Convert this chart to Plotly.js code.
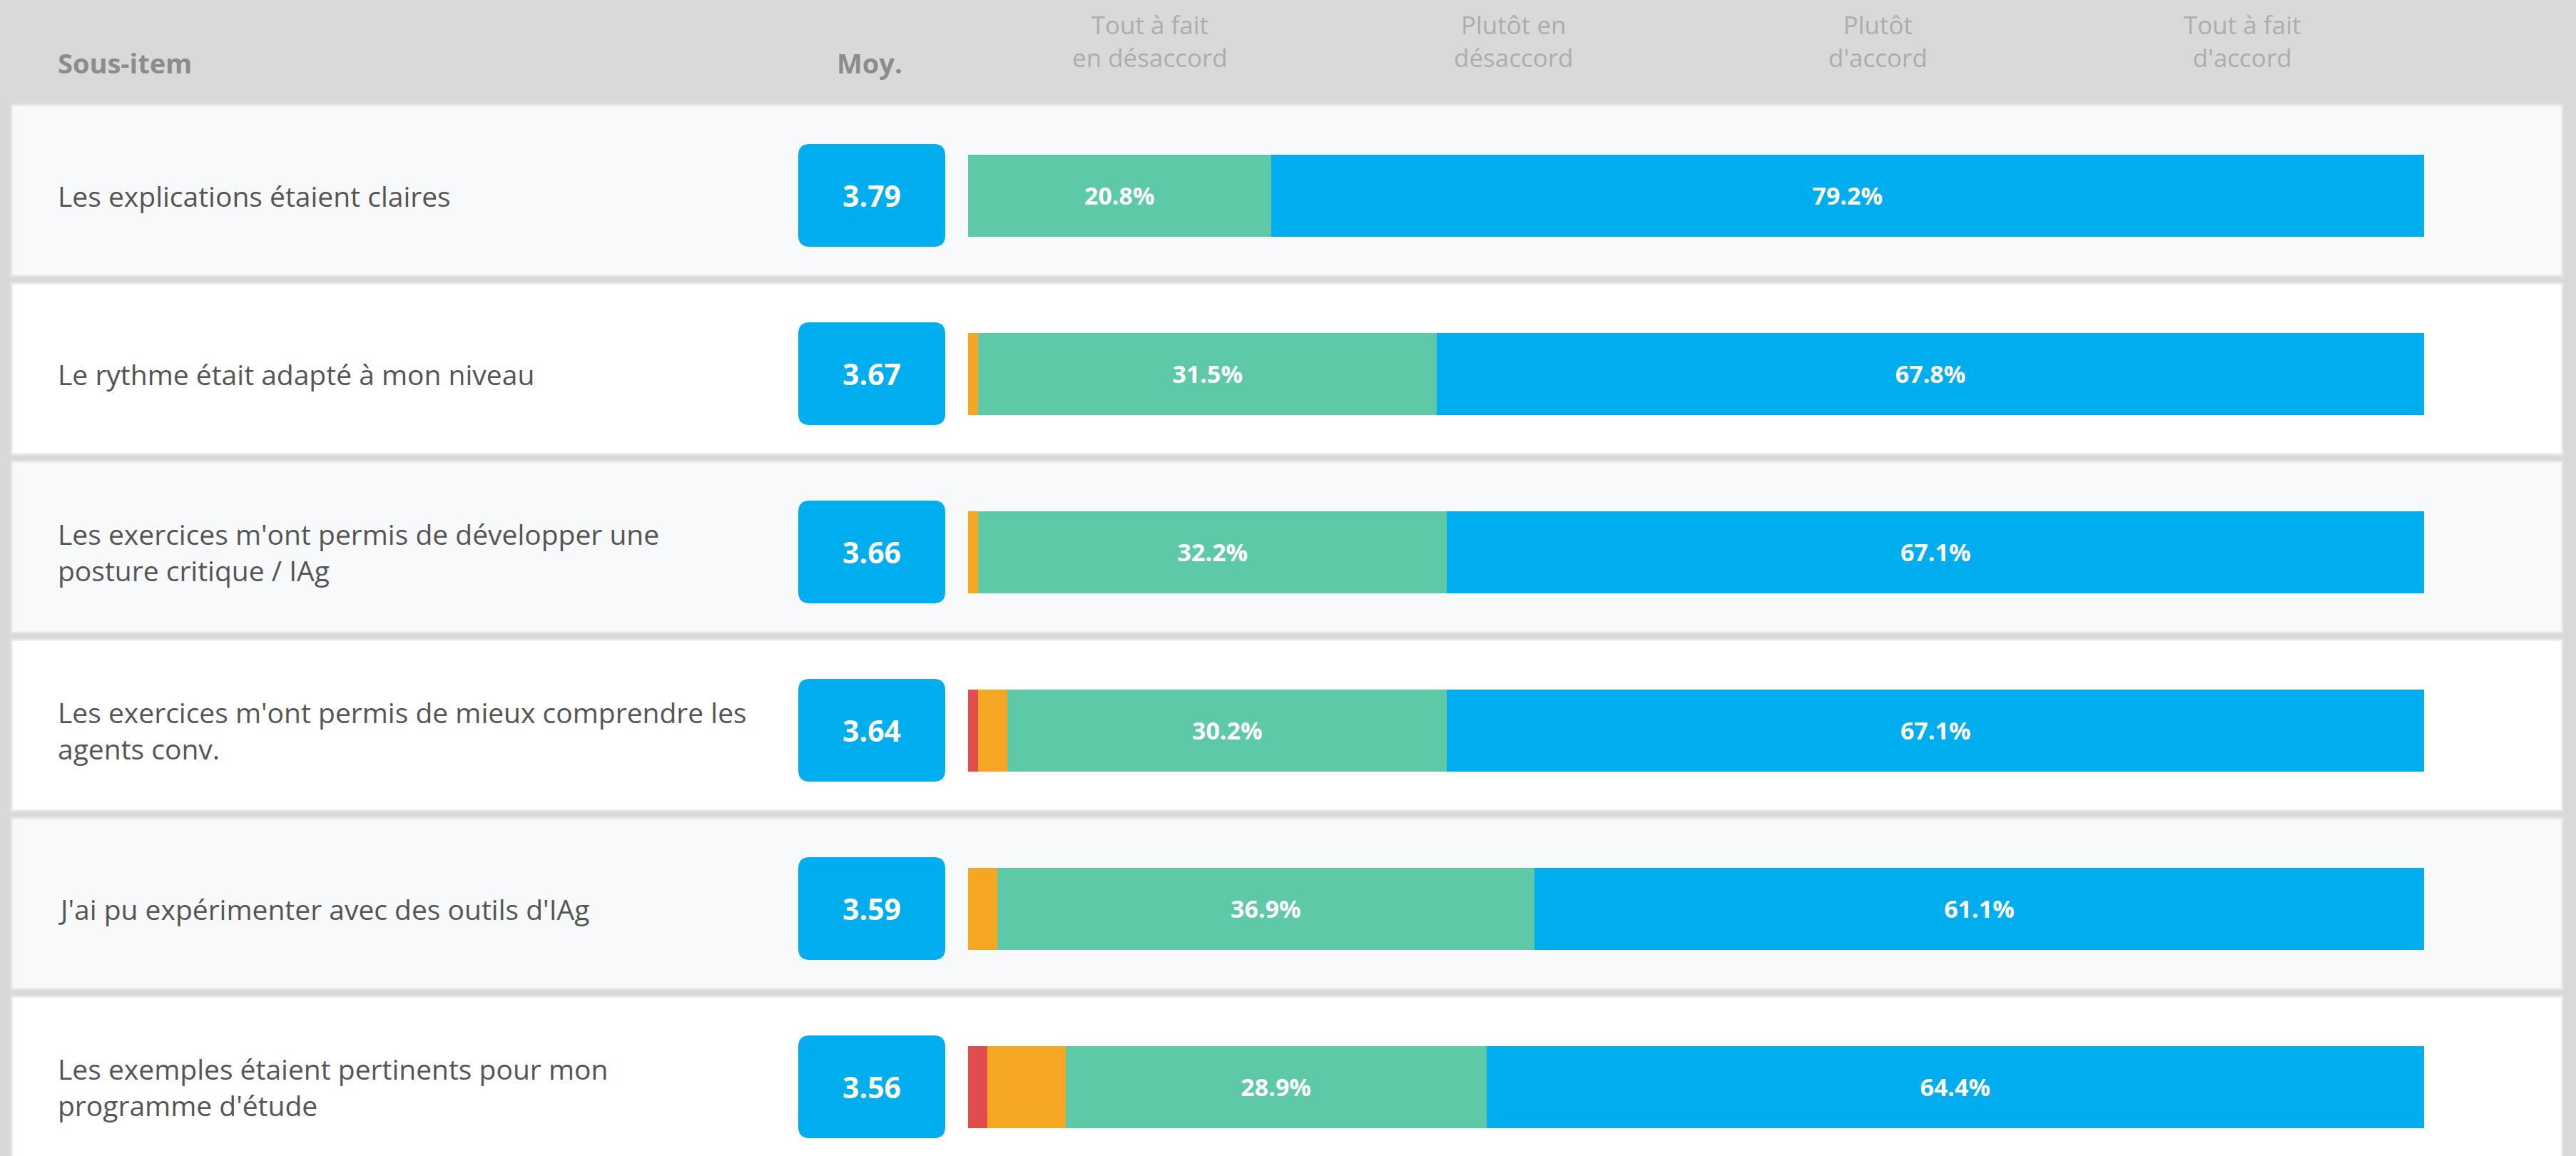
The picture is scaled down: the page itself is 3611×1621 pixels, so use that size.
<!DOCTYPE html>
<html>
<head>
<meta charset="utf-8">
<script src="https://cdn.plot.ly/plotly-3.0.1.min.js"></script>
<style>
html,body{margin:0;padding:0;background:#d9d9d9;}
#chart{width:3611px;height:1621px;}
</style>
</head>
<body>
<div id="chart"></div>
<script>
// ---- data ----
const items = [
  "Les explications étaient claires",
  "Le rythme était adapté à mon niveau",
  "Les exercices m'ont permis de développer une<br>posture critique / IAg",
  "Les exercices m'ont permis de mieux comprendre les<br>agents conv.",
  "J'ai pu expérimenter avec des outils d'IAg",
  "Les exemples étaient pertinents pour mon<br>programme d'étude"
];
const means = [3.79, 3.67, 3.66, 3.64, 3.59, 3.56];
const pctStronglyDisagree = [0, 0, 0, 0.7, 0, 1.3];
const pctDisagree = [0, 0.7, 0.7, 2.0, 2.0, 5.4];
const pctAgree = [20.8, 31.5, 32.2, 30.2, 36.9, 28.9];
const pctStronglyAgree = [79.2, 67.8, 67.1, 67.1, 61.1, 64.4];
const scaleLabels = ["Tout à fait<br>en désaccord", "Plutôt en<br>désaccord", "Plutôt<br>d'accord", "Tout à fait<br>d'accord"];
const headerItem = "Sous-item";
const headerMean = "Moy.";

// ---- geometry (pixels) ----
const W = 3611, H = 1621;
const barX0 = 1357, barX1 = 3398;
const pxPerUnit = (barX1 - barX0) / 100;
const rowC0 = 274, rowStep = 250;
const font = "Open Sans, Lato, sans-serif";
const colors = ["#e34c4c", "#f5a623", "#5dc9a6", "#00aeef"];

const ys = items.map((_, i) => i);
const xr = [-barX0 / pxPerUnit, (W - barX0) / pxPerUnit];
const yr = [(H - rowC0) / rowStep, (0 - rowC0) / rowStep];

function seg(vals, color, name, showText) {
  return {
    type: "bar", orientation: "h", name: name,
    x: vals, y: ys, width: 0.46,
    marker: {color: color, line: {width: 0}},
    text: vals.map(v => showText && v > 0 ? v.toFixed(1) + "%" : ""),
    textposition: "inside", insidetextanchor: "middle",
    constraintext: "none",
    textfont: {family: font, size: 34, color: "#ffffff", weight: 700},
    hoverinfo: "skip"
  };
}
const data = [
  seg(pctStronglyDisagree, colors[0], "Tout à fait en désaccord", false),
  seg(pctDisagree, colors[1], "Plutôt en désaccord", false),
  seg(pctAgree, colors[2], "Plutôt d'accord", true),
  seg(pctStronglyAgree, colors[3], "Tout à fait d'accord", true)
];

const shapes = [];
const annotations = [];
const badgeX = 1222 / W;
const bw = 103, bh = 72, r = 16;
const badgePath = `M ${-bw + r},${-bh} L ${bw - r},${-bh} Q ${bw},${-bh} ${bw},${-bh + r} L ${bw},${bh - r} Q ${bw},${bh} ${bw - r},${bh} L ${-bw + r},${bh} Q ${-bw},${bh} ${-bw},${bh - r} L ${-bw},${-bh + r} Q ${-bw},${-bh} ${-bw + r},${-bh} Z`;

items.forEach((label, i) => {
  shapes.push({
    type: "rect", layer: "below", xref: "paper", yref: "y",
    x0: 16 / W, x1: 3592 / W, y0: i - 0.508, y1: i + 0.452,
    fillcolor: i % 2 === 0 ? "#f8f9fa" : "#ffffff",
    line: {color: "#e6e6e6", width: 3}
  });
  shapes.push({
    type: "path", layer: "above", xref: "paper", yref: "y",
    xsizemode: "pixel", ysizemode: "pixel", xanchor: badgeX, yanchor: i,
    path: badgePath, fillcolor: "#00aeef", line: {width: 0}
  });
  annotations.push({
    xref: "paper", yref: "y", x: 79 / W, y: i, xanchor: "left", yanchor: "middle",
    align: "left", text: label, showarrow: false,
    font: {family: font, size: 39, color: "#555555"}
  });
  annotations.push({
    xref: "paper", yref: "y", x: badgeX, y: i, xanchor: "center", yanchor: "middle",
    text: means[i].toFixed(2), showarrow: false,
    font: {family: font, size: 41, color: "#ffffff", weight: 700}
  });
});

annotations.push({
  xref: "paper", yref: "paper", x: 79 / W, y: 1 - 88 / H, xanchor: "left", yanchor: "middle",
  text: headerItem, showarrow: false, font: {family: font, size: 38, color: "#8c8c8c", weight: 700}
});
annotations.push({
  xref: "paper", yref: "paper", x: 1219 / W, y: 1 - 88 / H, xanchor: "center", yanchor: "middle",
  text: headerMean, showarrow: false, font: {family: font, size: 38, color: "#8c8c8c", weight: 700}
});
scaleLabels.forEach((t, k) => {
  annotations.push({
    xref: "x", yref: "paper", x: 12.5 + 25 * k, y: 1 - 58 / H, xanchor: "center", yanchor: "middle",
    text: t, showarrow: false, align: "center",
    font: {family: font, size: 35, color: "#adadad"}
  });
});

const layout = {
  width: W, height: H,
  margin: {l: 0, r: 0, t: 0, b: 0, pad: 0},
  paper_bgcolor: "#d9d9d9", plot_bgcolor: "rgba(0,0,0,0)",
  barmode: "stack", bargap: 0,
  showlegend: false,
  xaxis: {range: xr, visible: false, fixedrange: true},
  yaxis: {range: yr, visible: false, fixedrange: true},
  shapes: shapes, annotations: annotations
};
Plotly.newPlot("chart", data, layout, {staticPlot: true, displayModeBar: false});
</script>
</body>
</html>
